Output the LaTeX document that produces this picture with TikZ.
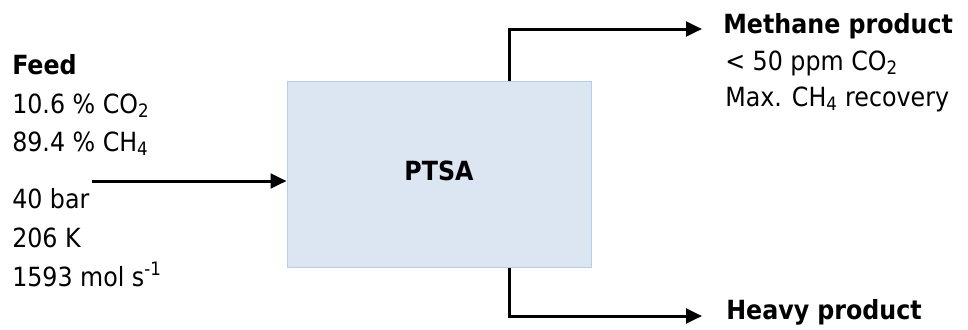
\documentclass[tikz,border=0pt]{standalone}
\usepackage{fontspec}
\setmainfont{DejaVu Sans Condensed}
\usetikzlibrary{arrows.meta,calc}
\begin{document}
\begin{tikzpicture}[x=0.75pt,y=-0.75pt,
  lbl/.style={anchor=base west, inner sep=0pt, font=\fontsize{19.8}{23}\selectfont},
  boxstyle/.style={draw=boxline, fill=boxfill, line width=0.75pt, minimum width=228pt, minimum height=139.5pt, inner sep=0pt, text depth=5.2pt, font=\fontsize{19.8}{23}\selectfont\bfseries},
  arr/.style={line width=2.25pt, -{Triangle[length=12pt,width=11pt]}}]
\definecolor{boxfill}{HTML}{DCE6F2}
\definecolor{boxline}{HTML}{B9CDE5}
\useasboundingbox (0,0) rectangle (968,329);
\node[boxstyle] (ptsa) at (439,174) {PTSA};
% left texts
\node[lbl] (feed) at (12,74) {\bfseries Feed};
\node[lbl] (co2) at (12,113) {10.6 \% CO\textsubscript{2}};
\node[lbl] (ch4) at (12,151) {89.4 \% CH\textsubscript{4}};
\node[lbl] (pres) at (12,208) {40 bar};
\node[lbl] (temp) at (12,247) {206 K};
\node[lbl] (flow) at (12,286) {1593 mol s\textsuperscript{-1}};
% right texts
\node[lbl] (meth) at (723,33) {\bfseries Methane product};
\node[lbl] (ppm) at (725,70) {< 50 ppm CO\textsubscript{2}};
\node[lbl] (rec) at (725,106) {Max. CH\textsubscript{4} recovery};
\node[lbl] (heavy) at (726,319) {\bfseries Heavy product};
% connectors
\coordinate (fstart) at (92,181);
\coordinate (mtip) at (702,29);
\coordinate (htip) at (702,316);
\draw[arr] (fstart) -- (fstart -| ptsa.west);
\draw[arr] ($(ptsa.north)+(70,0)$) |- (mtip);
\draw[arr] ($(ptsa.south)+(70,0)$) |- (htip);
\end{tikzpicture}
\end{document}
